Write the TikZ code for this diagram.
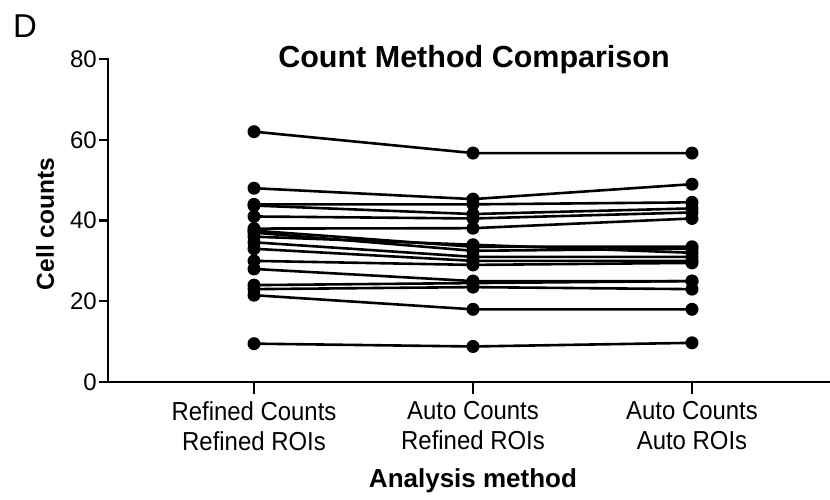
\documentclass[tikz,border=0pt]{standalone}
\usepackage{fontspec}
\setmainfont{Liberation Sans}
\newfontfamily\narrowsans[FakeStretch=0.92]{Liberation Sans}
\begin{document}
\begin{tikzpicture}[x=1pt,y=-1pt,
  axis/.style={line width=2.8pt,line cap=rect},
  series/.style={line width=2.6pt,line join=round},
  dot/.style={fill=black,draw=none},
  ticklab/.style={font=\fontsize{24}{24}\selectfont,anchor=east,inner sep=0pt},
  catlab/.style={font=\narrowsans\fontsize{26}{30}\selectfont,align=center,anchor=north,inner sep=0pt},
  boldlab/.style={font=\bfseries\fontsize{26}{26}\selectfont,inner sep=0pt}]
\useasboundingbox (0,0) rectangle (830,499);
\fill[white] (0,0) rectangle (830,499);
% panel letter and title
\node[font=\fontsize{33}{33}\selectfont,inner sep=0pt,anchor=west] (panel) at (13,26) {D};
\node[boldlab,font=\bfseries\fontsize{30.5}{30.5}\selectfont] (title) at (474,60) {Count Method Comparison};
% axes
\draw[axis] (108,59) -- (108,382) -- (830,382);
\foreach \v/\l in {0/0,20/20,40/40,60/60,80/80}{
  \draw[line width=2.4pt] (99,{382-4.0375*\v}) -- (108,{382-4.0375*\v});
  \node[ticklab] (t\l) at (97,{382-4.0375*\v}) {\l};
}
\foreach \x/\n in {254/a,473/b,692/c}{
  \draw[line width=2.4pt] (\x,382) -- (\x,394);
}
\node[catlab] (ca) at (254,401) {Refined Counts\\Refined ROIs};
\node[catlab] (cb) at (473,401) {Auto Counts\\Refined ROIs};
\node[catlab] (cc) at (692,401) {Auto Counts\\Auto ROIs};
\node[boldlab] (xl) at (473,481) {Analysis method};
\node[boldlab,font=\bfseries\fontsize{24.5}{24.5}\selectfont,rotate=90] (yl) at (45,224) {Cell counts};
% data
\foreach \a/\b/\c in {62/56.7/56.7, 48/45.3/49, 44/44/44.5, 43.7/41.6/43, 41/40.5/42,
  38/38.1/40.5, 37.5/33.5/33.5, 37/32.5/33, 36/34/32, 34.6/31/31, 33/30/30,
  30/29/29.5, 28/25/25, 24/24.5/25, 23/23.5/23, 21.5/18/18, 9.5/8.8/9.7}{
  \draw[series] (254,{382-4.0375*\a}) -- (473,{382-4.0375*\b}) -- (692,{382-4.0375*\c});
  \fill[dot] (254,{382-4.0375*\a}) circle (6.5);
  \fill[dot] (473,{382-4.0375*\b}) circle (6.5);
  \fill[dot] (692,{382-4.0375*\c}) circle (6.5);
}
\end{tikzpicture}
\end{document}
